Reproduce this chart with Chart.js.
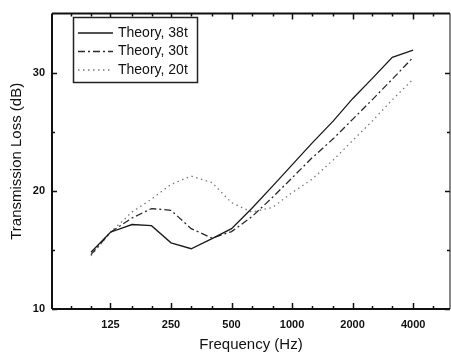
<!DOCTYPE html>
<html lang="en">
<head>
<meta charset="UTF-8">
<title>Transmission Loss</title>
<script src="https://cdn.jsdelivr.net/npm/chart.js@4/dist/chart.umd.min.js"></script>
<style>
    body { margin: 0; background: #fff; }
    #wrap { width: 451px; height: 357px; }
</style>
</head>
<body>
<div id="wrap"><canvas id="tlChart" width="451" height="357"></canvas></div>
<script>
// one-third octave band centre frequencies (Hz)
const freqs = [100, 125, 160, 200, 250, 315, 400, 500, 630, 800, 1000, 1250, 1600, 2000, 2500, 3150, 4000];
// transmission loss (dB)
const tl38 = [14.8, 16.5, 17.15, 17.05, 15.6, 15.1, 15.95, 16.8, 18.5, 20.4, 22.2, 24.0, 25.9, 27.8, 29.5, 31.3, 31.9];
const tl30 = [14.6, 16.5, 17.7, 18.5, 18.35, 16.8, 16.0, 16.55, 17.8, 19.45, 21.1, 22.75, 24.4, 26.05, 27.7, 29.45, 31.3];
const tl20 = [14.5, 16.5, 18.2, 19.3, 20.55, 21.25, 20.7, 19.0, 18.2, 18.6, 19.85, 20.95, 22.6, 24.25, 25.9, 27.7, 29.45];
const seriesLabels = ['Theory, 38t', 'Theory, 30t', 'Theory, 20t'];
const xTickLabels = [125, 250, 500, 1000, 2000, 4000];
const xMinorTicks = [80, 100, 160, 200, 315, 400, 630, 800, 1250, 1600, 2500, 3150, 5000];
const yTickLabels = [10, 20, 30];
const yMinorTicks = [15, 25];

const FONT = '"Liberation Sans", Arial, sans-serif';

// frame, inward ticks and the boxed legend
const framePlugin = {
    id: 'frame',
    afterDatasetsDraw(chart) {
        const ctx = chart.ctx;
        const a = chart.chartArea;
        const xs = chart.scales.x, ys = chart.scales.y;
        ctx.save();
        ctx.strokeStyle = '#111';
        ctx.lineWidth = 2;
        ctx.beginPath();
        ctx.moveTo(a.left, a.top); ctx.lineTo(a.right, a.top);
        ctx.moveTo(a.left, a.bottom); ctx.lineTo(a.right, a.bottom);
        ctx.moveTo(a.left, a.top); ctx.lineTo(a.left, a.bottom);
        ctx.stroke();
        ctx.lineWidth = 1;
        ctx.beginPath();
        ctx.moveTo(a.right, a.top); ctx.lineTo(a.right, a.bottom);
        ctx.stroke();

        ctx.lineWidth = 1.5;
        ctx.beginPath();
        xTickLabels.forEach(v => {
            const px = Math.round(xs.getPixelForValue(v)) + 0.5;
            ctx.moveTo(px, a.bottom); ctx.lineTo(px, a.bottom - 6);
            ctx.moveTo(px, a.top); ctx.lineTo(px, a.top + 6);
        });
        xMinorTicks.forEach(v => {
            const px = Math.round(xs.getPixelForValue(v)) + 0.5;
            ctx.moveTo(px, a.bottom); ctx.lineTo(px, a.bottom - 3);
            ctx.moveTo(px, a.top); ctx.lineTo(px, a.top + 3);
        });
        yTickLabels.concat(yMinorTicks).forEach(v => {
            const py = Math.round(ys.getPixelForValue(v)) + 0.5;
            const len = yTickLabels.includes(v) ? 5 : 3;
            ctx.moveTo(a.left, py); ctx.lineTo(a.left + len, py);
            ctx.moveTo(a.right, py); ctx.lineTo(a.right - len, py);
        });
        ctx.stroke();

        // legend box
        const lx = 73, ly = 17, lw = 124, lh = 65;
        ctx.fillStyle = '#fff';
        ctx.fillRect(lx, ly, lw, lh);
        ctx.strokeStyle = '#222';
        ctx.lineWidth = 1.5;
        ctx.strokeRect(lx + 0.5, ly + 0.5, lw, lh);
        ctx.font = '14px ' + FONT;
        ctx.textBaseline = 'middle';
        chart.data.datasets.forEach((ds, i) => {
            const cy = 33 + i * 18.5;
            ctx.strokeStyle = ds.borderColor;
            ctx.lineWidth = ds.borderWidth;
            ctx.setLineDash(ds.borderDash || []);
            ctx.beginPath();
            ctx.moveTo(78, cy); ctx.lineTo(113, cy);
            ctx.stroke();
            ctx.setLineDash([]);
            ctx.fillStyle = '#111';
            ctx.fillText(ds.label, 118, cy);
        });
        ctx.restore();
    }
};

new Chart(document.getElementById('tlChart'), {
    type: 'line',
    data: {
        datasets: [
            {
                label: seriesLabels[0],
                data: freqs.map((f, i) => ({ x: f, y: tl38[i] })),
                borderColor: '#1a1a1a',
                borderWidth: 1.3,
                pointRadius: 0,
                tension: 0
            },
            {
                label: seriesLabels[1],
                data: freqs.map((f, i) => ({ x: f, y: tl30[i] })),
                borderColor: '#2a2a2a',
                borderWidth: 1.3,
                borderDash: [7, 3, 2, 3],
                pointRadius: 0,
                tension: 0
            },
            {
                label: seriesLabels[2],
                data: freqs.map((f, i) => ({ x: f, y: tl20[i] })),
                borderColor: '#7a7a7a',
                borderWidth: 1.3,
                borderDash: [1.5, 3.5],
                pointRadius: 0,
                tension: 0
            }
        ]
    },
    options: {
        responsive: false,
        animation: false,
        layout: { padding: { top: 8, right: 1, left: 0, bottom: 0 } },
        plugins: {
            legend: { display: false },
            tooltip: { enabled: false }
        },
        scales: {
            x: {
                type: 'logarithmic',
                min: 64,
                max: 6100,
                afterBuildTicks(scale) {
                    scale.ticks = xTickLabels.map(v => ({ value: v }));
                },
                afterFit(scale) { scale.height = 48; },
                grid: { display: false, drawTicks: false },
                border: { display: false },
                ticks: {
                    autoSkip: false,
                    maxRotation: 0,
                    padding: 9,
                    color: '#111',
                    font: { family: FONT, size: 11, weight: 'bold' },
                    callback: v => String(v)
                },
                title: {
                    display: true,
                    text: 'Frequency (Hz)',
                    color: '#111',
                    font: { family: FONT, size: 15 },
                    padding: { top: 0, bottom: 3 }
                }
            },
            y: {
                type: 'linear',
                min: 10,
                max: 35,
                afterBuildTicks(scale) {
                    scale.ticks = yTickLabels.map(v => ({ value: v }));
                },
                afterFit(scale) { scale.width = 52; },
                grid: { display: false, drawTicks: false },
                border: { display: false },
                ticks: {
                    padding: 7,
                    color: '#111',
                    font: { family: FONT, size: 11, weight: 'bold' }
                },
                title: {
                    display: true,
                    text: 'Transmission Loss (dB)',
                    color: '#111',
                    font: { family: FONT, size: 15 },
                    padding: { top: 8, bottom: 0 }
                }
            }
        }
    },
    plugins: [framePlugin]
});
</script>
</body>
</html>
